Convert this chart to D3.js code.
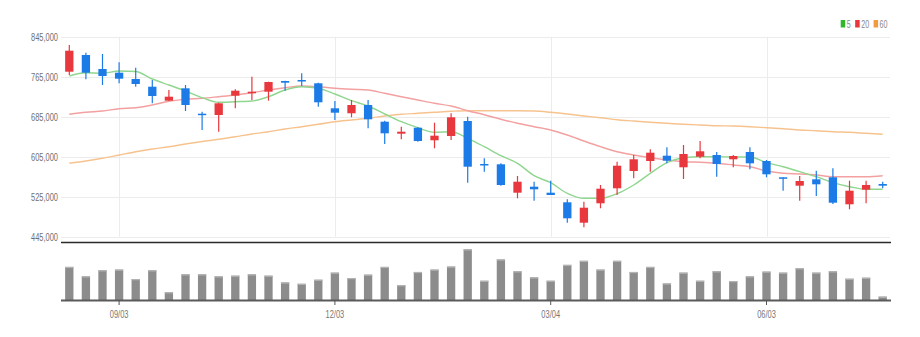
<!DOCTYPE html>
<html>
<head>
<meta charset="utf-8">
<script src="https://cdn.jsdelivr.net/npm/d3@7/dist/d3.min.js"></script>
<style>
  html, body { margin: 0; padding: 0; background: #fff; }
  svg { display: block; }
  text { font-family: "Liberation Sans", Arial, sans-serif; }
</style>
</head>
<body>
<svg id="chart" width="920" height="337"></svg>
<script>
// Weekly candles (Monday of each week)
const dates = [
  "2018-08-13","2018-08-20","2018-08-27","2018-09-03","2018-09-10","2018-09-17","2018-09-24",
  "2018-10-01","2018-10-08","2018-10-15","2018-10-22","2018-10-29","2018-11-05","2018-11-12",
  "2018-11-19","2018-11-26","2018-12-03","2018-12-10","2018-12-17","2018-12-24","2018-12-31",
  "2019-01-07","2019-01-14","2019-01-21","2019-01-28","2019-02-04","2019-02-11","2019-02-18",
  "2019-02-25","2019-03-04","2019-03-11","2019-03-18","2019-03-25","2019-04-01","2019-04-08",
  "2019-04-15","2019-04-22","2019-04-29","2019-05-06","2019-05-13","2019-05-20","2019-05-27",
  "2019-06-03","2019-06-10","2019-06-17","2019-06-24","2019-07-01","2019-07-08","2019-07-15",
  "2019-07-22"
];
const open  = [775000,808400,780400,773000,760400,745000,717000,741800,691000,688400,727000,731800,735000,756400,758400,751800,701800,691800,708400,675000,651000,663000,637800,646400,676400,590400,589800,533000,545000,533000,513800,473000,511800,541800,576400,596400,607000,583800,605000,608400,599800,614400,596400,563800,547000,559800,563800,509800,539000,550400];
const close = [817000,773000,766400,761000,750400,726400,725000,708400,689000,711800,737000,735000,754400,753000,756400,713800,693000,708400,679800,651800,655000,636400,647000,683800,585000,588400,548400,555000,539800,528400,481800,503000,541000,587000,599800,613000,597000,610400,615800,590400,606400,591800,569800,561000,556400,549800,513000,537000,548400,547000];
const high  = [828400,813000,810400,793800,783000,758400,738400,748400,695000,713000,739800,765000,755000,757000,771800,753000,716400,718400,718400,677000,665000,663800,673000,691800,685000,601800,591800,566400,555000,557000,519800,515000,548400,595000,608400,619800,623800,628400,636400,614400,608400,623800,598400,563800,566400,577000,581800,557000,557000,555000];
const low   = [768400,759800,748400,751800,745000,711800,717000,696400,658400,655000,701800,718400,717000,737000,746400,705000,678400,683800,661800,630400,639800,635000,621800,638400,553000,575000,547000,521800,517000,528400,473000,463800,501800,528400,561800,575000,591800,560400,601800,565000,583800,579800,563800,537000,517000,526400,510400,499800,511800,541800];
const volume = [98,70,88,90,62,88,23,76,76,70,72,76,72,52,48,60,81,65,75,98,44,83,90,99,150,57,120,85,67,57,104,116,90,116,83,98,49,81,57,85,56,70,84,81,94,81,85,63,66,10].map(v => v * 1000);

// Moving averages (5, 20, 60 weeks)
const ma5  = [766400,773000,772000,776400,775400,760400,748400,736400,723000,713800,715000,716400,725000,738400,745000,741800,730400,717000,706400,690400,675000,663000,653800,655000,641800,625000,607000,591800,567000,553000,531800,521800,521800,531000,548400,571800,593000,603000,605000,605000,604400,604400,593000,585000,575000,565000,553000,545000,539800,539800];
const ma20 = [689800,693800,696400,700800,703000,708400,716000,719800,721800,725000,728400,733000,738400,743000,746400,745000,741800,739800,738400,731800,725000,718400,711800,706400,697000,689000,679800,671800,665000,658400,648400,636400,625000,615000,608400,603000,598400,595000,593800,591800,588400,585000,576400,571800,570400,568400,565000,565000,565000,567000];
const ma60 = [591800,596400,601800,608400,615000,620400,625000,630400,635400,639800,645000,650400,655000,660400,665000,669800,675000,678400,681800,686400,689800,691800,693800,695800,697000,697000,697000,697000,696400,693800,690400,686400,683000,679000,676400,673800,671800,669800,668400,667000,666400,665000,663000,661000,658400,657000,655000,653800,651800,649800];

const priceTicks = [445000, 525000, 605000, 685000, 765000, 845000];
const dateTicks = ["2018-09-03", "2018-12-03", "2019-03-04", "2019-06-03"];
const maSeries = [
  { name: "5",  values: ma5,  color: "#2fb82f", line: "#8fd68f" },
  { name: "20", values: ma20, color: "#e8383d", line: "#f3a0a0" },
  { name: "60", values: ma60, color: "#f39a3c", line: "#f6c38f" }
];

const UP = "#e8383d", DOWN = "#1c7be6";
const NARROW = "scale(0.68,1)";

const svg = d3.select("#chart");
const left = 61, right = 890;

const x = d3.scaleBand()
  .domain(dates)
  .range([left, right + 1])
  .paddingInner(0.5)
  .paddingOuter(0.25);
const cx = d => x(d) + x.bandwidth() / 2;

const y = d3.scaleLinear().domain([445000, 845000]).range([236.7, 36.7]);
const yv = d3.scaleLinear().domain([0, 150000]).range([300, 249.3]);

// Grid
const grid = svg.append("g");
grid.selectAll("line.h").data(priceTicks).join("line")
  .attr("x1", left).attr("x2", right)
  .attr("y1", d => Math.round(y(d)) + 0.5).attr("y2", d => Math.round(y(d)) + 0.5)
  .attr("stroke", "#ececec").attr("stroke-width", 1);
grid.selectAll("line.v").data(dateTicks).join("line")
  .attr("x1", d => Math.round(cx(d)) + 0.5).attr("x2", d => Math.round(cx(d)) + 0.5)
  .attr("y1", y(845000)).attr("y2", y(445000))
  .attr("stroke", "#ececec").attr("stroke-width", 1);

// Price axis labels
const yAxis = d3.axisLeft(y).tickValues(priceTicks).tickFormat(d3.format(",")).tickSize(0).tickPadding(0);
const ya = svg.append("g").attr("transform", "translate(58,0)").call(yAxis);
ya.select(".domain").remove();
ya.selectAll("text")
  .attr("fill", "#707070").attr("font-size", 11)
  .attr("x", 0).attr("dy", "0.34em")
  .attr("transform", NARROW);

// Moving averages
const line = vals => d3.line().x((d, i) => cx(dates[i])).y(d => y(d)).curve(d3.curveMonotoneX)(vals);
svg.append("g").selectAll("path").data(maSeries.slice().reverse()).join("path")
  .attr("d", s => line(s.values))
  .attr("fill", "none").attr("stroke", s => s.line).attr("stroke-width", 1.4);

// Candles
const candles = svg.append("g").selectAll("g").data(dates).join("g");
candles.append("line")
  .attr("x1", (d) => cx(d)).attr("x2", (d) => cx(d))
  .attr("y1", (d, i) => y(high[i])).attr("y2", (d, i) => y(low[i]))
  .attr("stroke", (d, i) => close[i] >= open[i] ? UP : DOWN).attr("stroke-width", 1.2);
candles.append("rect")
  .attr("x", d => x(d)).attr("width", x.bandwidth())
  .attr("y", (d, i) => y(Math.max(open[i], close[i])))
  .attr("height", (d, i) => Math.max(1.5, Math.abs(y(open[i]) - y(close[i]))))
  .attr("fill", (d, i) => close[i] >= open[i] ? UP : DOWN);

// Divider between price and volume panes
svg.append("line").attr("x1", left).attr("x2", right + 1).attr("y1", 242.5).attr("y2", 242.5)
  .attr("stroke", "#2b2b2b").attr("stroke-width", 1.6);

// Volume bars
const vb = svg.append("g").selectAll("g").data(dates).join("g");
vb.append("rect")
  .attr("x", d => x(d)).attr("width", x.bandwidth())
  .attr("y", (d, i) => yv(volume[i])).attr("height", (d, i) => 300 - yv(volume[i]))
  .attr("fill", "#8c8c8c");
vb.append("rect")
  .attr("x", d => x(d)).attr("width", x.bandwidth())
  .attr("y", (d, i) => yv(volume[i])).attr("height", 1.2)
  .attr("fill", "#b4b4b4");

// Date axis
const parse = d3.timeParse("%Y-%m-%d"), fmt = d3.timeFormat("%m/%d");
const xa = svg.append("g").attr("transform", "translate(0,300)");
xa.append("line").attr("x1", left).attr("x2", right + 1).attr("y1", 0.5).attr("y2", 0.5)
  .attr("stroke", "#5a5a5a").attr("stroke-width", 2.2);
const tk = xa.selectAll("g").data(dateTicks).join("g")
  .attr("transform", d => `translate(${cx(d)},0)`);
tk.append("line").attr("y1", 0).attr("y2", 5).attr("stroke", "#555").attr("stroke-width", 1);
tk.append("text").attr("y", 18).attr("text-anchor", "middle")
  .attr("fill", "#777").attr("font-size", 11).attr("transform", NARROW)
  .text(d => fmt(parse(d)));

// Legend
const lg = svg.append("g").attr("transform", "translate(840.7,20)");
let lx = 0;
maSeries.forEach(s => {
  lg.append("rect").attr("x", lx).attr("y", 0).attr("width", 4.5).attr("height", 7.5).attr("fill", s.color);
  const t = lg.append("text").attr("transform", `translate(${lx + 6},7.5) ${NARROW}`)
    .attr("font-size", 10.5).attr("fill", "#888").text(s.name);
  lx += 6 + t.node().getComputedTextLength() * 0.68 + 4.5;
});
</script>
</body>
</html>
